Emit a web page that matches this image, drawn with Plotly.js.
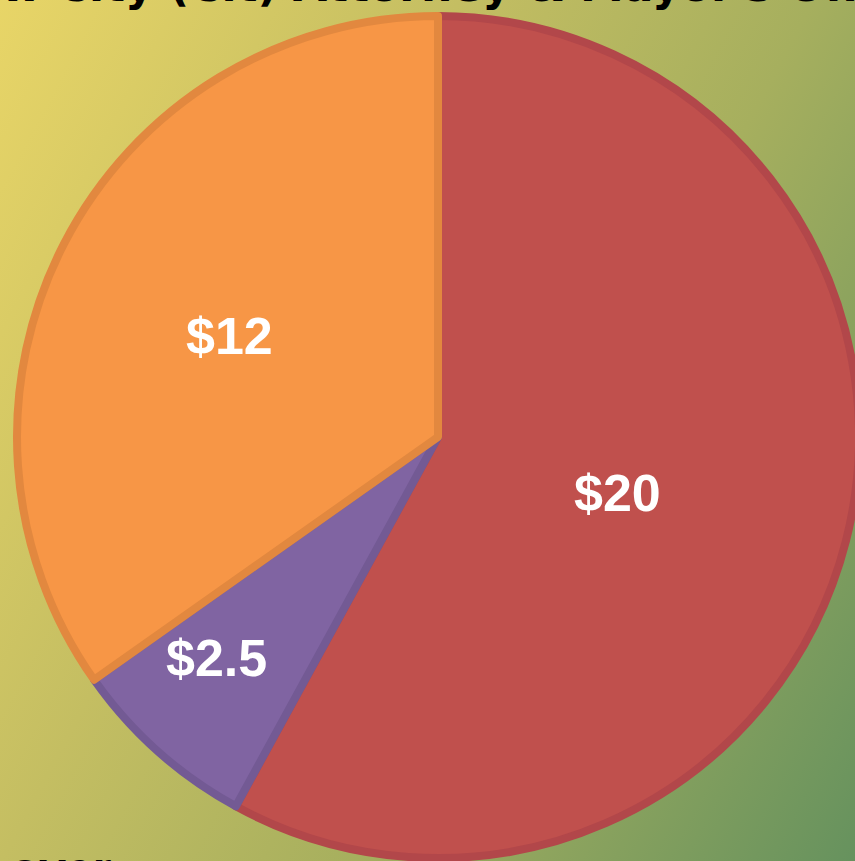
<!DOCTYPE html>
<html>
<head>
<meta charset="utf-8">
<script src="https://cdn.plot.ly/plotly-3.0.1.min.js"></script>
<style>
html, body { margin: 0; padding: 0; overflow: hidden; width: 855px; height: 861px; }
body { background: linear-gradient(118deg, #E8D567 0%, #C4BE62 35%, #A6AF5E 62%, #66925E 100%); }
#chart { width: 870px; height: 861px; }
</style>
</head>
<body>
<div id="chart"></div>
<script>
const categories = ["City Attorney", "Mayor's Office", "Other"];
const values = [20, 2.5, 12];
const labelsText = ["$20", "$2.5", "$12"];
const fillColors = ["#C0504D", "#8064A2", "#F79646"];
const lineColors = ["#B2474A", "#735A94", "#E2883F"];
const titleText = "New City (Cit) Attorney & Mayor's Office";
const bottomText = "over";

const W = 870, H = 861;
const cx = 438, cy = 437, R = 421;
const labelRadius = [0.442, 0.737, 0.546];
const labelAngleOffsetDeg = [3.0, 3.3, -1.6];

const trace = {
  type: "pie",
  labels: categories,
  values: values,
  textinfo: "none",
  sort: false,
  direction: "clockwise",
  rotation: 0,
  hoverinfo: "none",
  showlegend: false,
  marker: { colors: fillColors, line: { color: lineColors, width: 8 } },
  domain: {
    x: [(cx - R) / W, (cx + R) / W],
    y: [(H - (cy + R)) / H, (H - (cy - R)) / H]
  }
};

// slice labels placed around each slice's mid-angle, derived from the values
const total = values.reduce((a, b) => a + b, 0);
let cum = 0;
const labelAnns = values.map((v, i) => {
  const mid = (cum + v / 2) / total * 2 * Math.PI + labelAngleOffsetDeg[i] * Math.PI / 180;
  cum += v;
  const r = labelRadius[i] * (R + 4);
  const px = cx + r * Math.sin(mid);
  const py = cy - r * Math.cos(mid);
  return {
    text: "<b>" + labelsText[i] + "</b>", xref: "paper", yref: "paper",
    x: px / W, y: 1 - py / H, xanchor: "center", yanchor: "middle", showarrow: false,
    font: { family: "Liberation Sans, Arial, sans-serif", size: 52, color: "#FFFFFF" }
  };
});

const layout = {
  width: W, height: H,
  margin: { l: 0, r: 0, t: 0, b: 0, pad: 0 },
  paper_bgcolor: "rgba(0,0,0,0)",
  plot_bgcolor: "rgba(0,0,0,0)",
  annotations: [
    { text: "<b>" + titleText + "</b>", xref: "paper", yref: "paper", x: 0, y: 1,
      xanchor: "left", yanchor: "bottom", xshift: -68, yshift: -13, showarrow: false,
      font: { family: "DejaVu Sans, sans-serif", size: 44, color: "#000000" } },
    { text: "<b>" + bottomText + "</b>", xref: "paper", yref: "paper", x: 0, y: 0,
      xanchor: "left", yanchor: "top", xshift: 8, yshift: 20, showarrow: false,
      font: { family: "Liberation Sans, Arial, sans-serif", size: 48, color: "#000000" } }
  ].concat(labelAnns)
};

Plotly.newPlot("chart", [trace], layout, { displayModeBar: false, staticPlot: true });
</script>
</body>
</html>
